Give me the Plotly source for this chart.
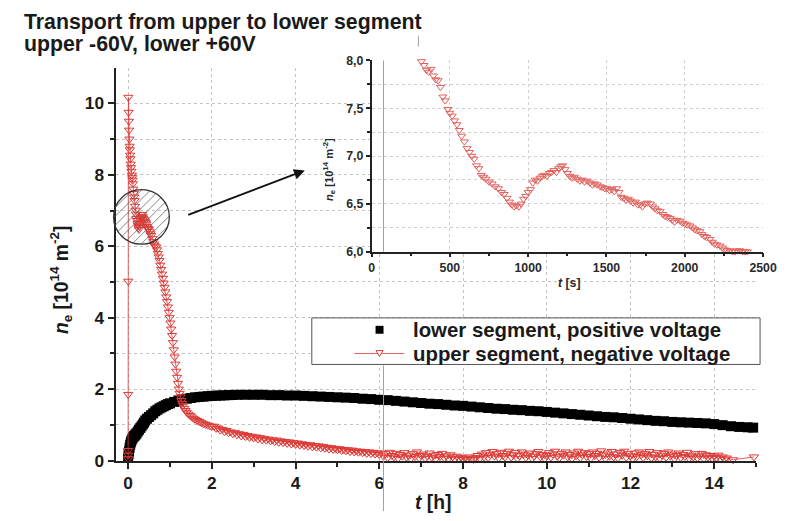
import math
import plotly.graph_objects as go

W, H = 792, 521
# effective drawing size observed in the rendered page (used to map reference pixels)
W_EFF, H_EFF = 778.0, 509.0
FONT = "Liberation Sans"
RED = "#dc3a36"
RED_INSET = "#e2605c"


def px(x):
    return x / W_EFF


def py(y):
    return 1 - y / H_EFF


# ---------------- data ----------------
# lower segment, positive voltage  (t in hours, n_e in 1e14 m^-2)
lower_t_h = [0.0, 0.01, 0.02, 0.035, 0.05, 0.065, 0.08, 0.1, 0.12, 0.14, 0.16, 0.18, 0.2, 0.23,
             0.26, 0.29, 0.32, 0.35, 0.38, 0.41, 0.45, 0.5, 0.55, 0.6, 0.65, 0.7, 0.75, 0.8, 0.85,
             0.9, 0.95, 1.0, 1.1, 1.2, 1.3, 1.4, 1.5, 1.6, 1.7, 1.8, 1.9, 2.0, 2.1, 2.2, 2.3,
             2.4, 2.5, 2.6, 2.8, 3.0, 3.2, 3.4, 3.6, 3.8, 4.0, 4.2, 4.4, 4.6, 4.8, 5.0, 5.2, 5.4,
             5.6, 5.8, 6.0, 6.2, 6.4, 6.6, 6.8, 7.0, 7.2, 7.4, 7.6, 7.8, 8.0, 8.2, 8.4, 8.6, 8.8,
             9.0, 9.2, 9.4, 9.6, 9.8, 10.0, 10.2, 10.4, 10.6, 10.8, 11.0, 11.2, 11.4, 11.6, 11.8,
             12.0, 12.2, 12.4, 12.6, 12.8, 13.0, 13.2, 13.4, 13.6, 13.8, 14.0, 14.2, 14.4, 14.6,
             14.8, 14.93]
lower_ne = [0.08, 0.18, 0.26, 0.36, 0.44, 0.51, 0.56, 0.61, 0.65, 0.68, 0.7, 0.73, 0.76, 0.81,
            0.86, 0.91, 0.96, 1.01, 1.06, 1.12, 1.17, 1.22, 1.27, 1.32, 1.38, 1.42, 1.46, 1.49,
            1.52, 1.55, 1.58, 1.6, 1.64, 1.68, 1.71, 1.73, 1.75, 1.77, 1.78, 1.79, 1.8, 1.81,
            1.815, 1.82, 1.825, 1.83, 1.835, 1.84, 1.84, 1.84, 1.84, 1.83, 1.83, 1.82, 1.82,
            1.81, 1.8, 1.79, 1.78, 1.77, 1.76, 1.75, 1.73, 1.72, 1.7, 1.69, 1.67, 1.65, 1.63,
            1.61, 1.59, 1.58, 1.56, 1.54, 1.53, 1.51, 1.49, 1.47, 1.45, 1.44, 1.42, 1.41, 1.39,
            1.38, 1.36, 1.34, 1.32, 1.3, 1.28, 1.26, 1.24, 1.22, 1.21, 1.19, 1.17, 1.15, 1.13,
            1.11, 1.1, 1.08, 1.07, 1.06, 1.05, 1.04, 1.02, 0.99, 0.96, 0.94, 0.93, 0.92]

# upper segment, negative voltage (t in hours)
upper_t_h = [
    0.0, 0.0, 0.0, 0.002, 0.004, 0.006,
    0.012, 0.018, 0.024, 0.03, 0.036, 0.042, 0.048, 0.055, 0.062, 0.07, 0.078, 0.088, 0.096,
    0.106, 0.115, 0.124, 0.135, 0.145, 0.155, 0.165, 0.177, 0.188, 0.2, 0.212, 0.224, 0.235,
    0.247, 0.258, 0.268, 0.278, 0.288, 0.3, 0.312, 0.324, 0.336, 0.348, 0.365, 0.38, 0.4,
    0.418, 0.435, 0.45, 0.465, 0.477, 0.49, 0.51, 0.53, 0.55, 0.58, 0.6, 0.62, 0.636,
    0.67, 0.69, 0.71, 0.73, 0.75, 0.77, 0.79, 0.81, 0.83, 0.85, 0.87, 0.89, 0.91, 0.93, 0.95,
    0.97, 0.99, 1.01, 1.03, 1.05, 1.07, 1.09, 1.11, 1.13, 1.15, 1.17, 1.19, 1.21, 1.23, 1.25,
    1.27, 1.29, 1.31, 1.34, 1.37, 1.4, 1.44, 1.48, 1.52, 1.56, 1.6, 1.65, 1.7, 1.75, 1.8,
    1.85, 1.9, 1.95, 2.0,
    2.05, 2.1, 2.15, 2.2, 2.25, 2.3, 2.35, 2.4, 2.45, 2.5, 2.55, 2.6, 2.65, 2.7, 2.75, 2.8,
    2.85, 2.9, 2.95, 3.0, 3.05, 3.1, 3.15, 3.2, 3.25, 3.3, 3.35, 3.4, 3.45, 3.5, 3.55, 3.6,
    3.65, 3.7, 3.75, 3.8, 3.85, 3.9, 3.95, 4.0, 4.05, 4.1, 4.15, 4.2, 4.25, 4.3, 4.35, 4.4,
    4.45, 4.5, 4.55, 4.6, 4.65, 4.7, 4.75, 4.8, 4.85, 4.9, 4.95, 5.0, 5.05, 5.1, 5.15, 5.2,
    5.25, 5.3, 5.35, 5.4, 5.45, 5.5, 5.55, 5.6, 5.65, 5.7, 5.75, 5.8, 5.85, 5.9, 5.95, 6.0,
    6.05, 6.1, 6.15, 6.2, 6.25, 6.3, 6.35, 6.4, 6.45, 6.5,
    6.55, 6.6, 6.65, 6.7, 6.75, 6.8, 6.85, 6.9, 6.95, 7.0,
    7.05, 7.1, 7.15, 7.2, 7.25, 7.3, 7.35, 7.4, 7.45, 7.5,
    7.55, 7.6, 7.65, 7.7, 7.75, 7.8, 7.85, 7.9, 7.95, 8.0,
    8.05, 8.1, 8.15, 8.2, 8.25, 8.3, 8.35, 8.4, 8.45, 8.5,
    8.55, 8.6, 8.65, 8.7, 8.75, 8.8, 8.85, 8.9, 8.95, 9.0,
    9.05, 9.1, 9.15, 9.2, 9.25, 9.3, 9.35, 9.4, 9.45, 9.5,
    9.55, 9.6, 9.65, 9.7, 9.75, 9.8, 9.85, 9.9, 9.95, 10.0,
    10.05, 10.1, 10.15, 10.2, 10.25, 10.3, 10.35, 10.4, 10.45, 10.5,
    10.55, 10.6, 10.65, 10.7, 10.75, 10.8, 10.85, 10.9, 10.95, 11.0,
    11.05, 11.1, 11.15, 11.2, 11.25, 11.3, 11.35, 11.4, 11.45, 11.5,
    11.55, 11.6, 11.65, 11.7, 11.75, 11.8, 11.85, 11.9, 11.95, 12.0,
    12.05, 12.1, 12.15, 12.2, 12.25, 12.3, 12.35, 12.4, 12.45, 12.5,
    12.55, 12.6, 12.65, 12.7, 12.75, 12.8, 12.85, 12.9, 12.95, 13.0,
    13.05, 13.1, 13.15, 13.2, 13.25, 13.3, 13.35, 13.4, 13.45, 13.5,
    13.55, 13.6, 13.65, 13.7, 13.75, 13.8, 13.85, 13.9, 13.95, 14.0,
    14.05, 14.1, 14.15, 14.2, 14.25, 14.3, 14.45, 14.95]
upper_ne = [
    0.05, 0.15, 0.28, 1.85, 5.02, 10.17,
    9.75, 9.5, 9.25, 9.0, 8.8, 8.7, 8.55, 8.45, 8.3, 8.2, 8.1, 7.99, 7.92,
    7.85, 7.75, 7.6, 7.48, 7.38, 7.28, 7.12, 7.01, 6.9, 6.78, 6.72, 6.64, 6.59,
    6.52, 6.47, 6.55, 6.65, 6.73, 6.77, 6.8, 6.84, 6.89, 6.82, 6.77, 6.74, 6.7,
    6.66, 6.62, 6.55, 6.51, 6.49, 6.48, 6.42, 6.35, 6.3, 6.21, 6.13, 6.06, 6.01,
    5.98, 5.9, 5.8, 5.7, 5.6, 5.47, 5.35, 5.22, 5.1, 4.97, 4.85, 4.72, 4.58, 4.45, 4.3,
    4.15, 4.0, 3.85, 3.68, 3.5, 3.3, 3.1, 2.9, 2.7, 2.5, 2.33, 2.16, 2.0, 1.88, 1.78,
    1.68, 1.6, 1.54, 1.46, 1.4, 1.35, 1.3, 1.26, 1.22, 1.18, 1.15, 1.12, 1.09, 1.06, 1.03,
    1.01, 0.99, 0.97, 0.95,
    0.96, 0.9, 0.91, 0.85, 0.87, 0.81, 0.84, 0.78, 0.8, 0.75, 0.78, 0.72, 0.75, 0.69, 0.73,
    0.67, 0.7, 0.65, 0.68, 0.63, 0.66, 0.6, 0.64, 0.58, 0.62, 0.57, 0.6, 0.55, 0.58, 0.53,
    0.57, 0.51, 0.55, 0.5, 0.53, 0.48, 0.52, 0.46, 0.5, 0.45, 0.49, 0.43, 0.47, 0.42, 0.45,
    0.4, 0.44, 0.38, 0.42, 0.37, 0.41, 0.35, 0.39, 0.34, 0.37, 0.32, 0.36, 0.31, 0.34, 0.3,
    0.33, 0.28, 0.31, 0.27, 0.3, 0.25, 0.29, 0.24, 0.27, 0.23, 0.26, 0.22, 0.25, 0.2, 0.24,
    0.19, 0.23, 0.18, 0.21, 0.17,
    0.21, 0.12, 0.19, 0.08, 0.23, 0.14, 0.1, 0.2, 0.06, 0.17,
    0.12, 0.22, 0.09, 0.15, 0.05, 0.19, 0.11, 0.24, 0.07, 0.14,
    0.18, 0.06, 0.12, 0.21, 0.09, 0.15, 0.04, 0.17, 0.11, 0.2,
    0.07, 0.13, 0.05, 0.16, 0.1, 0.04, 0.12, 0.06, 0.09, 0.03,
    0.07, 0.04, 0.1, 0.05, 0.03, 0.08, 0.14, 0.06, 0.18, 0.1,
    0.22, 0.08, 0.16, 0.25, 0.12, 0.19, 0.07, 0.23, 0.14, 0.1,
    0.2, 0.26, 0.09, 0.16, 0.22, 0.05, 0.13, 0.24, 0.18, 0.08,
    0.15, 0.21, 0.06, 0.12, 0.19, 0.25, 0.1, 0.17, 0.05, 0.14,
    0.22, 0.09, 0.18, 0.26, 0.12, 0.07, 0.2, 0.15, 0.24, 0.1,
    0.17, 0.05, 0.21, 0.13, 0.26, 0.08, 0.16, 0.22, 0.11, 0.19,
    0.06, 0.24, 0.14, 0.2, 0.09, 0.27, 0.16, 0.05, 0.21, 0.12,
    0.25, 0.1, 0.18, 0.07, 0.22, 0.15, 0.26, 0.09, 0.19, 0.13,
    0.05, 0.21, 0.11, 0.24, 0.16, 0.08, 0.2, 0.13, 0.25, 0.07,
    0.17, 0.1, 0.22, 0.06, 0.15, 0.2, 0.09, 0.24, 0.12, 0.18,
    0.05, 0.14, 0.21, 0.08, 0.17, 0.11, 0.23, 0.06, 0.15, 0.1,
    0.19, 0.07, 0.13, 0.2, 0.05, 0.16, 0.09, 0.14, 0.06, 0.12,
    0.08, 0.15, 0.05, 0.1, 0.04, 0.07, 0.02, 0.1]

# inset: same upper-segment signal, t in seconds
inset_t_s = [318, 335, 350, 365, 380, 395, 410, 425, 440, 455, 470, 487, 500, 515, 530, 545, 560,
             575, 593, 610, 625, 640, 655, 670, 685, 700, 715, 730, 750, 770, 790, 810, 830, 847,
             865, 880, 895, 910, 925, 941, 955, 970, 985, 1000, 1015, 1030, 1045, 1060, 1075, 1090,
             1105, 1120, 1135, 1150, 1165, 1180, 1195, 1208, 1220, 1235, 1250, 1265, 1280, 1295,
             1314, 1330, 1345, 1360, 1377, 1395, 1410, 1425, 1441, 1460, 1475, 1490, 1504, 1520,
             1535, 1550, 1565, 1580, 1595, 1610, 1625, 1640, 1653, 1670, 1685, 1700, 1716, 1730,
             1745, 1760, 1780, 1795, 1810, 1825, 1843, 1860, 1875, 1890, 1907, 1920, 1935, 1950,
             1970, 1985, 2000, 2015, 2034, 2050, 2065, 2080, 2097, 2110, 2125, 2140, 2161, 2175,
             2190, 2205, 2225, 2240, 2255, 2270, 2288, 2305, 2320, 2335, 2352, 2370, 2385, 2400,
             2415]
inset_ne = [7.99, 7.95, 7.9, 7.88, 7.91, 7.84, 7.8, 7.79, 7.72, 7.62, 7.58, 7.49, 7.45, 7.42, 7.37,
            7.33, 7.27, 7.21, 7.15, 7.08, 7.04, 7.0, 6.97, 6.9, 6.87, 6.8, 6.78, 6.76, 6.73, 6.71,
            6.68, 6.66, 6.62, 6.6, 6.56, 6.52, 6.49, 6.47, 6.48, 6.47, 6.5, 6.55, 6.58, 6.62, 6.65,
            6.72, 6.75, 6.74, 6.77, 6.79, 6.8, 6.79, 6.82, 6.83, 6.85, 6.83, 6.87, 6.89, 6.9, 6.86,
            6.82, 6.79, 6.77, 6.78, 6.76, 6.74, 6.75, 6.73, 6.74, 6.72, 6.7, 6.71, 6.7, 6.68, 6.67,
            6.66, 6.66, 6.64, 6.65, 6.63, 6.66, 6.62, 6.57, 6.56, 6.54, 6.55, 6.53, 6.51, 6.52,
            6.49, 6.49, 6.47, 6.5, 6.51, 6.5, 6.47, 6.45, 6.43, 6.42, 6.39, 6.37, 6.36, 6.35, 6.33,
            6.31, 6.33, 6.32, 6.3, 6.29, 6.28, 6.27, 6.25, 6.23, 6.22, 6.21, 6.18, 6.16, 6.15, 6.13,
            6.1, 6.08, 6.07, 6.06, 6.04, 6.02, 6.01, 6.01, 6.0, 6.0, 6.01, 6.01, 6.0, 6.0, 6.0,
            5.99]

legend_labels = ["lower segment, positive voltage", "upper segment, negative voltage"]

# ---------------- figure ----------------
fig = go.Figure()
fig.add_trace(go.Scatter(
    x=lower_t_h, y=lower_ne, mode="markers", name=legend_labels[0], showlegend=False,
    marker=dict(symbol="square", size=10, color="black", line=dict(width=0)),
    cliponaxis=False))
fig.add_trace(go.Scatter(
    x=upper_t_h, y=upper_ne, mode="lines+markers", name=legend_labels[1], showlegend=False,
    line=dict(color=RED, width=0.8),
    marker=dict(symbol="triangle-down-open", size=8, color=RED, line=dict(width=1, color=RED)),
    cliponaxis=False))
fig.add_trace(go.Scatter(
    x=inset_t_s, y=inset_ne, xaxis="x2", yaxis="y2", mode="markers", showlegend=False,
    marker=dict(symbol="triangle-down-open", size=7, color=RED_INSET,
                line=dict(width=1, color=RED_INSET)),
    cliponaxis=False))

tick_main = dict(family=FONT, size=17.3, color="#1a1a1a", weight="bold")
tick_inset = dict(family=FONT, size=12.3, color="#2a2a2a", weight="bold")
ax_common = dict(showline=True, linecolor="#222", linewidth=2, ticks="outside", tickwidth=2,
                 tickcolor="#222", zeroline=False, showgrid=True, gridcolor="#c4c4c4",
                 griddash="dot", gridwidth=1)

fig.update_layout(
    width=W, height=H, margin=dict(l=0, r=0, t=0, b=0), autosize=False,
    paper_bgcolor="white", plot_bgcolor="white", separators=",.", showlegend=False,
    xaxis=dict(ax_common, domain=[px(113), px(756)], range=[-0.3, 15.0], tick0=0, dtick=2,
               ticklen=6, tickfont=tick_main, anchor="y",
               minor=dict(dtick=1, tick0=0, ticks="outside", ticklen=4, tickwidth=2,
                          tickcolor="#222", showgrid=False)),
    yaxis=dict(ax_common, domain=[py(458), py(62)], range=[0, 10.98], tick0=0, dtick=2,
               ticklen=6, tickfont=tick_main, anchor="x",
               minor=dict(dtick=1, tick0=0, ticks="outside", ticklen=4, tickwidth=2,
                          tickcolor="#222", showgrid=True, gridcolor="#c4c4c4",
                          griddash="dot", gridwidth=1)),
    xaxis2=dict(ax_common, domain=[px(370), px(763)], range=[0, 2500], tick0=0, dtick=500,
                ticklen=4, tickwidth=1.5, linewidth=1.5, tickfont=tick_inset, anchor="y2",
                gridcolor="#cfcfcf",
                minor=dict(dtick=250, ticks="outside", ticklen=3, tickwidth=1.5,
                           tickcolor="#222", showgrid=False)),
    yaxis2=dict(ax_common, domain=[py(247), py(54)], range=[6.0, 8.0], tick0=6, dtick=0.5,
                tickformat=".1f", ticklen=4, tickwidth=1.5, linewidth=1.5, tickfont=tick_inset,
                anchor="x2", gridcolor="#cfcfcf",
                minor=dict(dtick=0.25, ticks="outside", ticklen=3, tickwidth=1.5,
                           tickcolor="#222", showgrid=True, gridcolor="#cfcfcf",
                           griddash="dot", gridwidth=1)),
)

shapes = []
# white background for the inset plotting area (hides main grid behind it)
shapes.append(dict(type="rect", xref="x2", yref="y2", x0=0, x1=2500, y0=6.0, y1=8.0,
                   fillcolor="white", line=dict(width=0), layer="below"))

# ellipse with hatching around the feature
CX, CY, RX, RY = 139.0, 212.0, 28.0, 27.5
for c in range(-36, 40, 9):
    a = 1 / RX ** 2 + 1 / RY ** 2
    b = -2 * c / RY ** 2
    cc = c ** 2 / RY ** 2 - 1
    disc = b * b - 4 * a * cc
    if disc <= 0:
        continue
    u1 = (-b - math.sqrt(disc)) / (2 * a)
    u2 = (-b + math.sqrt(disc)) / (2 * a)
    shapes.append(dict(type="line", xref="paper", yref="paper",
                       x0=px(CX + u1), y0=py(CY + c - u1), x1=px(CX + u2), y1=py(CY + c - u2),
                       line=dict(color="#666", width=0.8)))
shapes.append(dict(type="circle", xref="paper", yref="paper",
                   x0=px(CX - RX), x1=px(CX + RX), y0=py(CY + RY), y1=py(CY - RY),
                   line=dict(color="#333", width=1.3)))

# thin grey vertical lines (artefacts of the original figure)
for (xx, ya, yb) in [(382, 54, 247), (382, 362, 509), (417, 29, 40)]:
    shapes.append(dict(type="line", xref="paper", yref="paper", x0=px(xx), x1=px(xx),
                       y0=py(ya), y1=py(yb), line=dict(color="#a0a0a0", width=1)))

# legend box and symbols
shapes.append(dict(type="rect", xref="paper", yref="paper", x0=px(310), x1=px(760),
                   y0=py(361), y1=py(314), fillcolor="white", line=dict(color="#555", width=1),
                   layer="above"))
shapes.append(dict(type="rect", xref="paper", yref="paper", x0=px(374), x1=px(382),
                   y0=py(330), y1=py(322), fillcolor="black", line=dict(width=0), layer="above"))
shapes.append(dict(type="line", xref="paper", yref="paper", x0=px(353), x1=px(403),
                   y0=py(350), y1=py(350), line=dict(color=RED, width=0.8), layer="above"))
shapes.append(dict(type="path", xref="paper", yref="paper",
                   path="M {:.5f},{:.5f} L {:.5f},{:.5f} L {:.5f},{:.5f} Z".format(
                       px(374.5), py(347), px(381.5), py(347), px(378), py(353)),
                   fillcolor="white", line=dict(color=RED, width=1), layer="above"))
fig.update_layout(shapes=shapes)

ann = []
ann.append(dict(text="Transport from upper to lower segment", x=px(19), y=py(15)))
ann.append(dict(text="upper -60V, lower +60V", x=px(19), y=py(37)))
for a_ in ann:
    a_.update(xref="paper", yref="paper", showarrow=False, xanchor="left", yanchor="middle",
              font=dict(family=FONT, size=21.3, color="#1a1a1a", weight="bold"))
ann.append(dict(text="<i>t</i> [h]", x=px(432), y=py(500), xref="paper", yref="paper",
                xanchor="center", yanchor="middle", showarrow=False,
                font=dict(family=FONT, size=19.3, color="#1a1a1a", weight="bold")))
ann.append(dict(text="<i>n</i><sub>e</sub> [10<sup>14</sup> m<sup>-2</sup>]", x=px(58), y=py(275),
                xref="paper", yref="paper", textangle=-90, xanchor="center", yanchor="middle",
                showarrow=False, font=dict(family=FONT, size=19.3, color="#1a1a1a", weight="bold")))
ann.append(dict(text="<i>t</i> [s]", x=px(569), y=py(279), xref="paper", yref="paper",
                xanchor="center", yanchor="middle", showarrow=False,
                font=dict(family=FONT, size=12.3, color="#2a2a2a", weight="bold")))
ann.append(dict(text="<i>n</i><sub>e</sub> [10<sup>14</sup> m<sup>-2</sup>]", x=px(328), y=py(164),
                xref="paper", yref="paper", textangle=-90, xanchor="center", yanchor="middle",
                showarrow=False, font=dict(family=FONT, size=11.2, color="#2a2a2a", weight="bold")))
for i, lab in enumerate(legend_labels):
    ann.append(dict(text=lab, x=px(410), y=py(326 + 24 * i), xref="paper", yref="paper",
                    xanchor="left", yanchor="middle", showarrow=False,
                    font=dict(family=FONT, size=20.4, color="#1a1a1a", weight="bold")))
# arrow pointing from the ellipse to the inset
ann.append(dict(text="", x=px(303), y=py(165), xref="paper", yref="paper", showarrow=True,
                ax=(187 - 303) * W / W_EFF, ay=(209 - 165) * H / H_EFF, arrowhead=2,
                arrowsize=1.2, arrowwidth=1.8, arrowcolor="#111"))
fig.update_layout(annotations=ann)

fig.write_html("out.html", config={"responsive": False})
